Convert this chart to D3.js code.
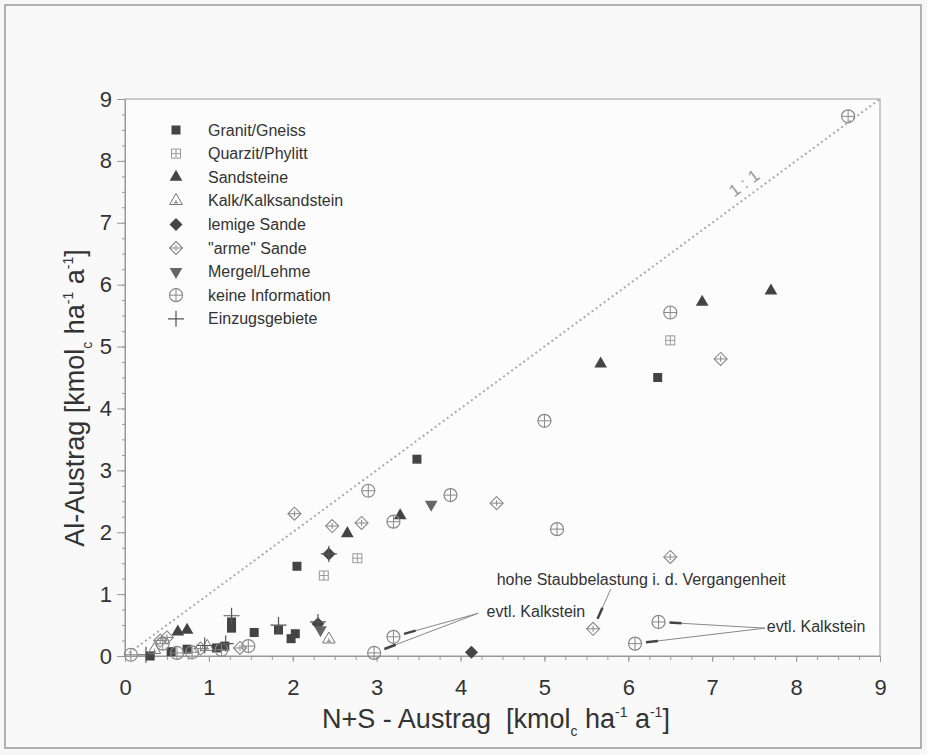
<!DOCTYPE html>
<html><head><meta charset="utf-8">
<script src="https://cdn.jsdelivr.net/npm/d3@7"></script>
<style>body{margin:0;background:#f7f7f7} svg{display:block}</style>
</head><body><svg id="c" width="927" height="755"></svg>
<script>
// ---- data ----
const xTicks = [0,1,2,3,4,5,6,7,8,9];
const yTicks = [0,1,2,3,4,5,6,7,8,9];
const seriesNames = ["Granit/Gneiss","Quarzit/Phylitt","Sandsteine","Kalk/Kalksandstein","lemige Sande","\"arme\" Sande","Mergel/Lehme","keine Information","Einzugsgebiete"];
const granit = [[0.3,0.0],[0.55,0.07],[0.74,0.11],[1.09,0.13],[1.19,0.16],[1.27,0.55],[1.27,0.45],[1.54,0.38],[1.83,0.42],[2.03,0.36],[1.98,0.28],[2.05,1.45],[3.48,3.18],[6.35,4.5]];
const quarzit = [[2.37,1.3],[2.77,1.58],[6.5,5.1]];
const sandsteine = [[0.63,0.39],[0.74,0.42],[2.65,1.98],[3.28,2.27],[5.67,4.72],[6.88,5.72],[7.7,5.9]];
const kalk = [[2.43,0.27],[0.35,0.1],[0.98,0.15]];
const lemige = [[2.3,0.52],[4.13,0.06],[2.43,1.65]];
const arme = [[2.02,2.3],[2.47,2.1],[2.82,2.15],[4.43,2.47],[7.1,4.8],[6.5,1.6],[5.58,0.44],[0.42,0.25],[0.5,0.3],[0.9,0.12],[1.37,0.13]];
const mergel = [[3.65,2.45],[2.33,0.42]];
const keine = [[8.62,8.72],[6.5,5.55],[5.0,3.8],[2.9,2.67],[3.88,2.6],[3.2,2.17],[5.15,2.05],[3.2,0.31],[2.97,0.05],[6.36,0.55],[6.08,0.2],[0.07,0.02],[0.45,0.2],[0.62,0.05],[0.8,0.06],[1.15,0.1],[1.47,0.16]];
const einzugs = [[1.27,0.65],[1.83,0.5],[2.3,0.55],[2.43,1.65],[0.95,0.17],[0.25,0.02],[1.2,0.2]];
const oneToOne = [[0,0],[9,9]];
// annotations: label anchor [x,y] in data units, targets in data units
const annotations = [
  {text:"hohe Staubbelastung i. d. Vergangenheit", at:[4.43,1.15], from:[5.79,1.08], to:[[5.58,0.44]]},
  {text:"evtl. Kalkstein", at:[4.31,0.63], from:[4.21,0.69], to:[[3.2,0.31],[2.97,0.05]]},
  {text:"evtl. Kalkstein", at:[7.65,0.39], from:[7.63,0.45], to:[[6.36,0.55],[6.08,0.2]]}
];

// ---- drawing ----
const svg = d3.select("#c");
const x = d3.scaleLinear().domain([0,9]).range([125,880]);
const y = d3.scaleLinear().domain([0,9]).range([656,99]);
const ink = "#333";
const ff = "Liberation Sans, Arial, Helvetica, sans-serif";

svg.append("rect").attr("x",5).attr("y",5).attr("width",916).attr("height",743)
  .attr("fill","#f9f9f9").attr("stroke","#999").attr("stroke-width",1.5);
svg.append("rect").attr("x",x(0)).attr("y",y(9)).attr("width",x(9)-x(0)).attr("height",y(0)-y(9))
  .attr("fill","#fcfcfc").attr("stroke","#999").attr("stroke-width",1);

// axes
const minor = d3.range(0,9.001,0.25);
const gx = svg.append("g").attr("transform",`translate(0,${y(0)})`);
gx.call(d3.axisBottom(x).tickValues(minor).tickSize(4).tickFormat(""));
gx.call(g=>g.append("g").call(d3.axisBottom(x).tickValues(xTicks).tickSize(6).tickPadding(17).tickFormat(d3.format("d"))));
const gy = svg.append("g").attr("transform",`translate(${x(0)},0)`);
gy.call(d3.axisLeft(y).tickValues(minor).tickSize(3).tickFormat(""));
gy.call(g=>g.append("g").call(d3.axisLeft(y).tickValues(yTicks).tickSize(8).tickPadding(5).tickFormat(d3.format("d"))));
svg.selectAll(".domain").attr("stroke","#999");
svg.selectAll(".tick line").attr("stroke","#999");
svg.selectAll(".tick text").attr("font-family",ff).attr("font-size",22).attr("fill",ink);

// axis titles
function unitTitle(t, label){
  t.append("tspan").text(label);
  t.append("tspan").attr("font-size",14).attr("dy",8).text("c");
  t.append("tspan").attr("dy",-8).text(" ha");
  t.append("tspan").attr("font-size",14).attr("dy",-11).text("-1");
  t.append("tspan").attr("dy",11).text(" a");
  t.append("tspan").attr("font-size",14).attr("dy",-11).text("-1");
  t.append("tspan").attr("dy",11).text("]");
}
const xt = svg.append("text").attr("x",496).attr("y",728).attr("text-anchor","middle")
  .attr("font-family",ff).attr("font-size",27).attr("fill",ink).attr("xml:space","preserve");
unitTitle(xt,"N+S - Austrag  [kmol");
const yt = svg.append("text").attr("transform","translate(84,398) rotate(-90)").attr("text-anchor","middle")
  .attr("font-family",ff).attr("font-size",27).attr("fill",ink);
unitTitle(yt,"Al-Austrag [kmol");

// 1:1 line
svg.append("path").datum(oneToOne).attr("d",d3.line().x(d=>x(d[0])).y(d=>y(d[1])))
  .attr("stroke","#aaa").attr("stroke-width",2).attr("stroke-dasharray","2,3").attr("fill","none");
const ang = Math.atan2(y(0)-y(9), x(9)-x(0))*180/Math.PI;
svg.append("text").attr("transform",`translate(${x(7.42)},${y(7.42)-9}) rotate(${-ang})`)
  .attr("text-anchor","middle").attr("font-family",ff)
  .attr("font-size",17).attr("fill","#999").text("1 : 1");

// symbols
const dia = s => `M0,${-s}L${s},0L0,${s}L${-s},0Z`;
function sym(g, kind, color){
  const s = 4.5;
  if(kind===0){ g.append("rect").attr("x",-s).attr("y",-s).attr("width",2*s).attr("height",2*s).attr("fill",color); }
  if(kind===1){ g.append("rect").attr("x",-s).attr("y",-s).attr("width",2*s).attr("height",2*s).attr("fill","none").attr("stroke",color);
    g.append("path").attr("d",`M${-s},0H${s}M0,${-s}V${s}`).attr("stroke",color); }
  if(kind===2){ g.append("path").attr("d",d3.symbol(d3.symbolTriangle,70)()).attr("fill",color); }
  if(kind===3){ g.append("path").attr("d",d3.symbol(d3.symbolTriangle,70)()).attr("fill","none").attr("stroke",color);
    g.append("path").attr("d","M-2,2H2M0,-1V2").attr("stroke",color); }
  if(kind===4){ g.append("path").attr("d",dia(6.5)).attr("fill",color); }
  if(kind===5){ g.append("path").attr("d",dia(6.5)).attr("fill","none").attr("stroke",color).attr("stroke-width",1.1);
    g.append("path").attr("d","M-6.5,0H6.5M0,-3V3").attr("stroke",color); }
  if(kind===6){ g.append("path").attr("d",d3.symbol(d3.symbolTriangle,70)()).attr("transform","rotate(180)").attr("fill",color); }
  if(kind===7){ g.append("circle").attr("r",6.5).attr("fill","none").attr("stroke",color).attr("stroke-width",1.2);
    g.append("path").attr("d","M-6.5,0H6.5M0,-6.5V6.5").attr("stroke",color); }
  if(kind===8){ g.append("path").attr("d","M-8,0H8M0,-8V8").attr("stroke",color).attr("stroke-width",1.2); }
}
const colors = ["#444","#999","#444","#777","#444","#888","#666","#888","#555"];
const allSeries = [granit,quarzit,sandsteine,kalk,lemige,arme,mergel,keine,einzugs];
allSeries.forEach((arr,k)=>{
  svg.append("g").selectAll("g").data(arr).join("g")
    .attr("transform",d=>`translate(${x(d[0])},${y(d[1])})`)
    .each(function(){ sym(d3.select(this),k,colors[k]); });
});

// legend
const lg = svg.append("g");
seriesNames.forEach((n,i)=>{
  const cy = 130 + i*23.6;
  const g = lg.append("g").attr("transform",`translate(176,${cy})`);
  sym(g,i,colors[i]);
  lg.append("text").attr("x",208).attr("y",cy+5.5).attr("font-family",ff)
    .attr("font-size",16).attr("fill",ink).text(n);
});

// annotations
annotations.forEach(a=>{
  svg.append("text").attr("x",x(a.at[0])).attr("y",y(a.at[1])).attr("font-family",ff)
    .attr("font-size",16).attr("fill",ink).text(a.text);
  a.to.forEach(t=>{
    const x1=x(a.from[0]), y1=y(a.from[1]), x2=x(t[0]), y2=y(t[1]);
    const L=Math.hypot(x2-x1,y2-y1), ux=(x2-x1)/L, uy=(y2-y1)/L;
    const ex=x2-ux*11, ey=y2-uy*11;
    svg.append("line").attr("x1",x1).attr("y1",y1).attr("x2",ex).attr("y2",ey).attr("stroke","#888").attr("stroke-width",1);
    svg.append("line").attr("x1",ex-ux*12).attr("y1",ey-uy*12).attr("x2",ex).attr("y2",ey).attr("stroke","#444").attr("stroke-width",2.5);
  });
});
</script></body></html>
